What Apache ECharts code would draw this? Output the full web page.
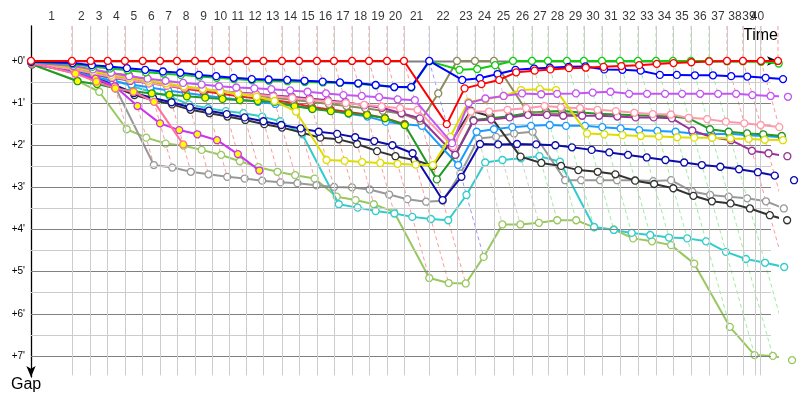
<!DOCTYPE html>
<html><head><meta charset="utf-8">
<script src="https://cdn.jsdelivr.net/npm/echarts@6/dist/echarts.min.js"></script>
<style>html,body{margin:0;padding:0;background:#fff}#c{width:800px;height:400px}</style>
</head><body><div id="c"></div>
<script>
// leader's elapsed time (minutes) at the end of each lap 0..40
const lapTimes = [0,3.50,5.10,6.56,8.03,9.55,11.03,12.48,14.02,15.47,16.92,18.44,19.87,21.45,22.91,24.44,25.90,27.44,28.89,30.43,31.88,34.04,36.41,37.95,39.57,41.20,42.82,44.19,45.81,47.26,48.80,50.34,51.88,53.42,54.87,56.41,57.95,59.49,60.85,62.39,63.85];
// lap grid lines (minutes) 0..40
const gridTimes = [0,3.50,5.10,6.56,8.03,9.55,11.03,12.48,14.02,15.47,16.92,18.44,19.87,21.45,22.91,24.44,25.90,27.44,28.89,30.43,31.88,34.04,36.41,37.95,39.57,41.20,42.82,44.19,45.81,47.26,48.80,50.34,51.88,53.42,54.87,56.41,57.95,59.49,60.85,61.88,62.31];
const lapLabels = ['1','2','3','4','5','6','7','8','9','10','11','12','13','14','15','16','17','18','19','20','21','22','23','24','25','26','27','28','29','30','31','32','33','34','35','36','37','38','39','40'];
const gapTicks = [0,1,2,3,4,5,6,7];
const gapGrid = [0,0.5,1,1.5,2,2.5,3,3.5,4,4.5,5,5.5,6,6.5,7];

// gaps to leader (minutes) per lap, index = lap number
const red     = [0,0,0,0,0,0,0,0,0,0,0,0,0,0,0,0,0,0,0,0,0,1.50,0.65,0.55,0.45,0.27,0.23,0.20,0.17,0.16,0.14,0.12,0.10,0.07,0.05,0.03,0.01,0,0,0,0];
const blue    = [0.02,0.05,0.10,0.13,0.17,0.21,0.25,0.28,0.33,0.36,0.40,0.43,0.44,0.45,0.47,0.49,0.51,0.53,0.57,0.62,0.62,0,0.45,0.41,0.31,0.21,0.18,0.16,0.14,0.13,0.20,0.21,0.23,0.33,0.33,0.34,0.34,0.36,0.37,0.40,0.43];
const green   = [0.03,0.08,0.14,0.18,0.22,0.27,0.30,0.33,0.37,0.40,0.43,0.46,0.47,0.48,0.50,0.51,0.52,0.54,0.58,0.62,0.63,0.01,0.21,0.19,0.10,0,0,0,0,0,0,0,0,0,0,0,0,0.01,0.01,0.02,0.06];
const violet  = [0.04,0.12,0.20,0.28,0.36,0.42,0.47,0.52,0.56,0.60,0.63,0.65,0.67,0.70,0.73,0.77,0.81,0.83,0.86,0.91,0.93,1.95,1.00,0.89,0.83,0.77,0.79,0.78,0.77,0.75,0.73,0.78,0.78,0.78,0.78,0.78,0.78,0.78,0.81,0.83,0.85];
const yellow  = [0.05,0.15,0.25,0.33,0.40,0.47,0.53,0.60,0.66,0.72,0.78,0.85,0.95,1.20,2.35,2.37,2.40,2.42,2.44,2.46,2.47,1.80,0.97,0.91,0.83,0.69,0.67,0.69,1.72,1.74,1.76,1.78,1.79,1.81,1.82,1.82,1.84,1.85,1.87,1.88];
const pink    = [0.06,0.20,0.30,0.38,0.45,0.52,0.58,0.63,0.68,0.72,0.76,0.80,0.84,0.88,0.92,0.96,1.00,1.04,1.08,1.12,1.16,2.03,1.20,1.20,1.16,1.12,1.07,1.10,1.12,1.16,1.19,1.23,1.26,1.27,1.35,1.38,1.44,1.48,1.52,1.57];
const olive   = [0.05,0.18,0.28,0.36,0.43,0.50,0.56,0.62,0.67,0.72,0.77,0.82,0.87,0.92,0.97,1.02,1.07,1.12,1.18,1.25,1.42,0.77,0,0,0,1.20,1.24,1.26,1.28];
const purple  = [0.06,0.22,0.32,0.40,0.47,0.53,0.58,0.63,0.68,0.72,0.75,0.78,0.82,0.85,0.89,0.93,0.98,1.05,1.11,1.24,1.36,2.23,1.42,1.39,1.34,1.28,1.28,1.30,1.30,1.30,1.32,1.34,1.34,1.36,1.65,1.81,1.88,2.13,2.19,2.26];
const green2  = [0.08,0.48,0.55,0.65,0.72,0.77,0.80,0.84,0.87,0.90,0.93,0.95,0.97,1.07,1.14,1.19,1.24,1.28,1.36,1.52,2.81,2.23,1.40,1.36,1.31,1.24,1.20,1.19,1.22,1.25,1.27,1.29,1.30,1.32,1.36,1.62,1.68,1.72,1.74,1.78];
const crimson = [0.04,0.17,0.25,0.30,0.34,0.47,0.58,0.66,0.72,0.78,0.84,0.89,0.93,1.00,1.09,1.15,1.21,1.27,1.35,1.50];
const sky     = [0.07,0.25,0.38,0.48,0.56,0.63,0.70,0.76,0.82,0.87,0.92,0.97,1.02,1.07,1.12,1.18,1.25,1.32,1.44,1.50,1.54,2.47,1.68,1.62,1.57,1.54,1.52,1.54,1.54,1.57,1.60,1.64,1.66,1.68,1.72,1.74,1.73,1.76,1.78,1.81];
const navy    = [0.05,0.22,0.40,0.57,0.76,0.88,0.98,1.10,1.18,1.26,1.34,1.43,1.52,1.60,1.68,1.73,1.81,1.90,2.00,2.19,3.30,2.75,1.97,1.98,1.97,1.98,2.00,2.05,2.11,2.17,2.23,2.29,2.35,2.41,2.47,2.51,2.57,2.64,2.72,2.83];
const gray    = [0.06,0.20,0.35,0.60,2.47,2.53,2.63,2.69,2.75,2.79,2.84,2.88,2.90,2.95,2.99,3.00,3.05,3.17,3.28,3.34,3.32,2.67,1.84,1.80,1.72,1.68,2.83,2.83,2.83,2.83,2.83,2.85,2.83,3.10,3.18,3.22,3.26,3.33,3.50];
const black   = [0.08,0.25,0.45,0.62,0.81,0.93,1.03,1.16,1.24,1.32,1.40,1.50,1.58,1.70,1.82,1.86,1.97,2.14,2.26,2.35,2.49,1.90,1.18,1.31,2.27,2.42,2.49,2.59,2.63,2.69,2.84,2.92,3.02,3.20,3.33,3.38,3.50,3.66,3.78];
const cyan    = [0.07,0.15,0.30,0.45,0.60,0.73,0.85,1.03,1.12,1.19,1.24,1.32,1.43,1.74,3.40,3.48,3.56,3.62,3.70,3.75,3.78,3.18,2.41,2.35,2.31,2.26,2.39,3.94,4.01,4.08,4.13,4.19,4.21,4.28,4.53,4.70,4.79,4.89];
const pale    = [0.08,0.47,0.73,1.62,1.82,1.96,2.01,2.11,2.23,2.38,2.52,2.63,2.71,2.79,3.22,3.30,3.40,3.58,5.15,5.27,5.28,4.65,3.88,3.88,3.84,3.78,3.78,3.95,4.00,4.21,4.28,4.37,4.81,6.31,6.98,7.00,7.10];
const magenta = [0.05,0.30,0.42,0.60,1.07,1.48,1.64,1.74,1.88,2.21,2.60];
const hotpink = [0.05,0.30,0.49,0.65,0.73,0.97,1.98];

// laps drawn with a yellow marker
const yellowLapsMagenta = [0,1,2,3,4,5,6,7,8,9,10];
const yellowLapsHotpink = [0,1,2,3,4,5,6];
const yellowLapsGreen2  = [0,1,2,3,4,5,6,7,8,9,10,11,12,13,14,15,16,17,18,19];
const yellowLapsCrimson = [0,1,2,3,4,5,6,7,8,9,10,11,12,13,14,15,16,17,18,19];

const drivers = [
  {gaps: pale,    color:'#99c760', yl:[]},
  {gaps: cyan,    color:'#33cccc', yl:[]},
  {gaps: gray,    color:'#999999', yl:[]},
  {gaps: black,   color:'#333333', yl:[]},
  {gaps: navy,    color:'#0c0ca8', yl:[]},
  {gaps: sky,     color:'#1a9cff', yl:[]},
  {gaps: crimson, color:'#ee2222', yl: yellowLapsCrimson},
  {gaps: green2,  color:'#229922', yl: yellowLapsGreen2},
  {gaps: olive,   color:'#8b8b5c', yl:[]},
  {gaps: purple,  color:'#993399', yl:[]},
  {gaps: pink,    color:'#ff99aa', yl:[]},
  {gaps: yellow,  color:'#dddd00', yl:[]},
  {gaps: violet,  color:'#c455f5', yl:[]},
  {gaps: magenta, color:'#cc33ee', yl: yellowLapsMagenta},
  {gaps: hotpink, color:'#ff6f9c', yl: yellowLapsHotpink},
  {gaps: green,   color:'#11cc11', yl:[]},
  {gaps: blue,    color:'#0000ff', yl:[]},
  {gaps: red,     color:'#ff0000', yl:[]}
];

const Y_TOP = -0.83, Y_MAX = 7.5, Y_GRID_END = 7.46, H_END = 63.25, X_MAX = 63.85;
const FONT = 'Liberation Sans';

const series = [];
// grid lines
const gridMarks = [];
gapGrid.forEach(v => {
  const major = Number.isInteger(v);
  gridMarks.push([{coord:[0, v], lineStyle:{color: major ? '#808080' : '#cccccc', width: major ? 1.2 : 1, type:'solid'}}, {coord:[H_END, v]}]);
});
gridTimes.slice(1).forEach(t => {
  gridMarks.push([{coord:[t, Y_TOP], lineStyle:{color:'#cccccc', width:1, type:'solid'}}, {coord:[t, Y_GRID_END]}]);
});
series.push({type:'line', data:[], silent:true, z:0,
  markLine:{silent:true, symbol:['none','none'], label:{show:false}, animation:false, data: gridMarks}});

// lap iso-lines, coloured by the lap leader
for (let k = 1; k < lapTimes.length; k++) {
  let gmax = 0, gmin = Infinity, lead = null;
  drivers.forEach(d => {
    const g = d.gaps[k];
    if (g === undefined || g === null) return;
    if (g > gmax) gmax = g;
    if (g < gmin) { gmin = g; lead = d; }
  });
  const t = lapTimes[k];
  series.push({type:'line', silent:true, z:1, symbol:'none', clip:false,
    data:[[t, Y_TOP],[t, 0],[t + gmax, gmax]],
    lineStyle:{color: lead.color, opacity:0.4, width:1, type:[4,3]}});
}

drivers.forEach((d, i) => {
  series.push({type:'line', z: 2 + i, clip:false, symbol:'circle', symbolSize:7,
    lineStyle:{color:d.color, width:2},
    itemStyle:{color:'#ffffff', borderColor:d.color, borderWidth:1.3},
    data: d.gaps.map((g, k) => ({value:[lapTimes[k] + g, g],
      itemStyle:{color: d.yl.includes(k) ? '#ffff00' : '#ffffff', borderColor:d.color, borderWidth:1.3}}))
  });
});

// lap numbers centred on each lap span, above the time axis
const mids = lapLabels.map((s, i) => (gridTimes[i] + gridTimes[i + 1]) / 2);
series.push({type:'scatter', silent:true, clip:false, symbolSize:0, z:30,
  data: mids.map((m, i) => ({value:[m, Y_TOP], name: lapLabels[i]})),
  label:{show:true, position:'top', distance:3, formatter: p => p.name, color:'#000', fontFamily:FONT, fontSize:12}
});

const chart = echarts.init(document.getElementById('c'));
chart.setOption({
  animation:false,
  backgroundColor:'#ffffff',
  grid:{left:31, right:22, top:26, bottom:23, containLabel:false},
  xAxis:{type:'value', position:'top', min:0, max:X_MAX,
    axisLine:{show:true, lineStyle:{color:'#000', width:1.3}, symbol:['none','arrow'], symbolSize:[7,11]},
    axisTick:{show:false}, splitLine:{show:false}, axisLabel:{show:false}
  },
  yAxis:{type:'value', inverse:true, min:Y_TOP, max:Y_MAX,
    axisLine:{show:true, lineStyle:{color:'#000', width:1.3}, symbol:['arrow','none'], symbolSize:[7,11]},
    axisTick:{show:false}, splitLine:{show:false},
    axisLabel:{show:true, customValues: gapTicks, margin:6, color:'#000', fontFamily:FONT, fontSize:10,
      formatter: v => '+' + v + "'"}
  },
  graphic:[
    {type:'text', right:22, top:28, style:{text:'Time', fill:'#000', font:'16px ' + FONT}},
    {type:'text', left:11, top:377, style:{text:'Gap', fill:'#000', font:'16px ' + FONT}}
  ],
  series: series
});
</script>
</body></html>
